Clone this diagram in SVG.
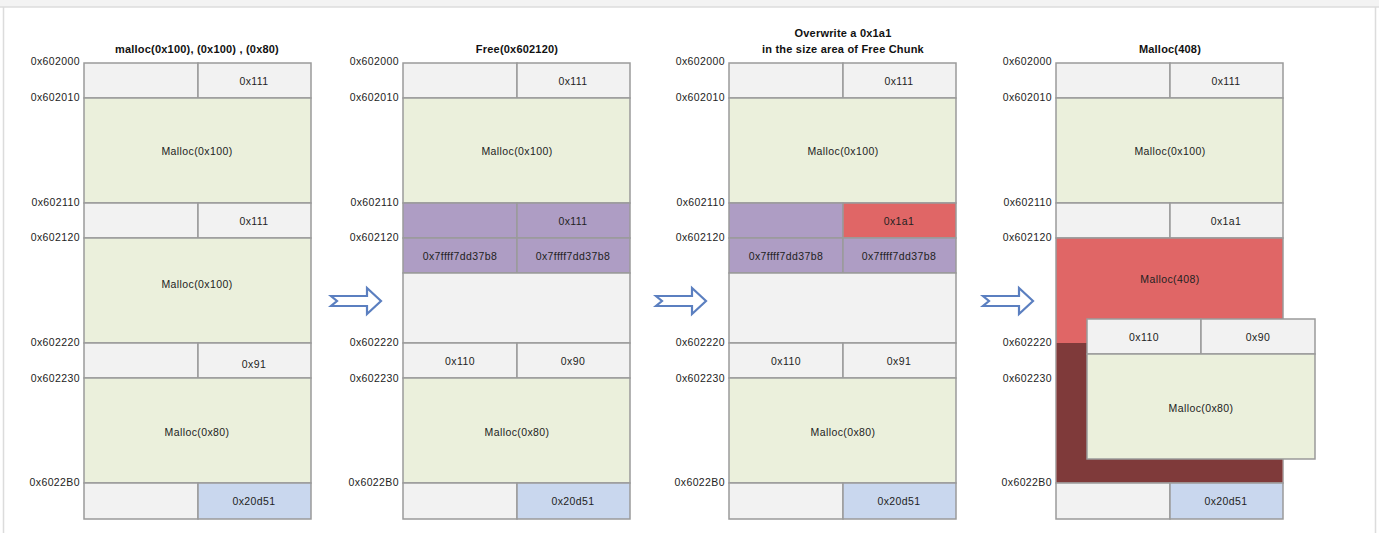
<svg xmlns="http://www.w3.org/2000/svg" width="1379" height="533" viewBox="0 0 1379 533">
<defs>
<style>
.c{stroke:#9a9a9a;stroke-width:1.5}
.g{fill:#f2f2f2}.m{fill:#ebf0dc}.b{fill:#c9d7ee}.p{fill:#ae9dc4}.r{fill:#e06666}.d{fill:#7f3a3a}
text{font-family:"Liberation Sans",Arial,sans-serif;font-size:10.5px;letter-spacing:0.4px;fill:#222}
.a{text-anchor:end}.t{text-anchor:middle}.h{font-weight:bold;font-size:11px;letter-spacing:0.2px;text-anchor:middle;fill:#111}
.ar{fill:#fff;stroke:#5b7fc0;stroke-width:2.2;stroke-linejoin:miter}
</style>
<g id="arrowShape"><path d="M0,-5 H36 V-13 L50,0 L36,13 V5 H0 L6,0 Z"/></g>
</defs>
<rect x="0" y="0" width="1379" height="533" fill="#fff"/>
<rect x="0" y="0" width="1379" height="7" fill="#f3f3f3"/>
<line x1="0" y1="7" x2="1379" y2="7" stroke="#dcdcdc" stroke-width="1.5"/>
<line x1="3.5" y1="7" x2="3.5" y2="533" stroke="#dcdcdc" stroke-width="1.5"/>
<line x1="1375.5" y1="7" x2="1375.5" y2="533" stroke="#dcdcdc" stroke-width="1.5"/>

<!-- Column 1 -->
<g id="col1">
<text class="h" x="197" y="53">malloc(0x100), (0x100) , (0x80)</text>
<rect class="c g" x="84" y="63" width="114" height="35"/><rect class="c g" x="198" y="63" width="113" height="35"/>
<rect class="c m" x="84" y="98" width="227" height="105"/>
<rect class="c g" x="84" y="203" width="114" height="35"/><rect class="c g" x="198" y="203" width="113" height="35"/>
<rect class="c m" x="84" y="238" width="227" height="105"/>
<rect class="c g" x="84" y="343" width="114" height="35"/><rect class="c g" x="198" y="343" width="113" height="35"/>
<rect class="c m" x="84" y="378" width="227" height="105"/>
<rect class="c g" x="84" y="483" width="114" height="36"/><rect class="c b" x="198" y="483" width="113" height="36"/>
<text class="t" x="254" y="85">0x111</text>
<text class="t" x="197" y="155">Malloc(0x100)</text>
<text class="t" x="254" y="225">0x111</text>
<text class="t" x="197" y="288">Malloc(0x100)</text>
<text class="t" x="254" y="368">0x91</text>
<text class="t" x="197" y="436">Malloc(0x80)</text>
<text class="t" x="254" y="505">0x20d51</text>
<text class="a" x="80" y="65">0x602000</text><text class="a" x="80" y="101">0x602010</text>
<text class="a" x="80" y="206">0x602110</text><text class="a" x="80" y="241">0x602120</text>
<text class="a" x="80" y="346">0x602220</text><text class="a" x="80" y="382">0x602230</text>
<text class="a" x="80" y="486">0x6022B0</text>
</g>

<!-- Column 2 -->
<g id="col2">
<text class="h" x="517" y="53">Free(0x602120)</text>
<rect class="c g" x="403" y="63" width="114" height="35"/><rect class="c g" x="517" y="63" width="113" height="35"/>
<rect class="c m" x="403" y="98" width="227" height="105"/>
<rect class="c p" x="403" y="203" width="114" height="35"/><rect class="c p" x="517" y="203" width="113" height="35"/>
<rect class="c p" x="403" y="238" width="114" height="35"/><rect class="c p" x="517" y="238" width="113" height="35"/>
<rect class="c g" x="403" y="273" width="227" height="70"/>
<rect class="c g" x="403" y="343" width="114" height="35"/><rect class="c g" x="517" y="343" width="113" height="35"/>
<rect class="c m" x="403" y="378" width="227" height="105"/>
<rect class="c g" x="403" y="483" width="114" height="36"/><rect class="c b" x="517" y="483" width="113" height="36"/>
<text class="t" x="573" y="225">0x111</text>
<text class="t" x="573" y="85">0x111</text>
<text class="t" x="517" y="155">Malloc(0x100)</text>
<text class="t" x="460" y="260">0x7ffff7dd37b8</text>
<text class="t" x="573" y="260">0x7ffff7dd37b8</text>
<text class="t" x="460" y="365">0x110</text>
<text class="t" x="573" y="365">0x90</text>
<text class="t" x="517" y="436">Malloc(0x80)</text>
<text class="t" x="573" y="505">0x20d51</text>
<text class="a" x="399" y="65">0x602000</text><text class="a" x="399" y="101">0x602010</text>
<text class="a" x="399" y="206">0x602110</text><text class="a" x="399" y="241">0x602120</text>
<text class="a" x="399" y="346">0x602220</text><text class="a" x="399" y="382">0x602230</text>
<text class="a" x="399" y="486">0x6022B0</text>
</g>

<!-- Column 3 -->
<g id="col3">
<text class="h" x="843" y="37">Overwrite a 0x1a1</text>
<text class="h" x="843" y="53">in the size area of Free Chunk</text>
<rect class="c g" x="729" y="63" width="114" height="35"/><rect class="c g" x="843" y="63" width="113" height="35"/>
<rect class="c m" x="729" y="98" width="227" height="105"/>
<rect class="c p" x="729" y="203" width="114" height="35"/><rect class="c r" x="843" y="203" width="113" height="35"/>
<rect class="c p" x="729" y="238" width="114" height="35"/><rect class="c p" x="843" y="238" width="113" height="35"/>
<rect class="c g" x="729" y="273" width="227" height="70"/>
<rect class="c g" x="729" y="343" width="114" height="35"/><rect class="c g" x="843" y="343" width="113" height="35"/>
<rect class="c m" x="729" y="378" width="227" height="105"/>
<rect class="c g" x="729" y="483" width="114" height="36"/><rect class="c b" x="843" y="483" width="113" height="36"/>
<text class="t" x="899" y="85">0x111</text>
<text class="t" x="843" y="155">Malloc(0x100)</text>
<text class="t" x="899" y="225">0x1a1</text>
<text class="t" x="786" y="260">0x7ffff7dd37b8</text>
<text class="t" x="899" y="260">0x7ffff7dd37b8</text>
<text class="t" x="786" y="365">0x110</text>
<text class="t" x="899" y="365">0x91</text>
<text class="t" x="843" y="436">Malloc(0x80)</text>
<text class="t" x="899" y="505">0x20d51</text>
<text class="a" x="725" y="65">0x602000</text><text class="a" x="725" y="101">0x602010</text>
<text class="a" x="725" y="206">0x602110</text><text class="a" x="725" y="241">0x602120</text>
<text class="a" x="725" y="346">0x602220</text><text class="a" x="725" y="382">0x602230</text>
<text class="a" x="725" y="486">0x6022B0</text>
</g>

<!-- Column 4 -->
<g id="col4">
<text class="h" x="1170" y="53">Malloc(408)</text>
<rect class="c g" x="1056" y="63" width="114" height="35"/><rect class="c g" x="1170" y="63" width="113" height="35"/>
<rect class="c m" x="1056" y="98" width="227" height="105"/>
<rect class="c g" x="1056" y="203" width="114" height="35"/><rect class="c g" x="1170" y="203" width="113" height="35"/>
<rect class="c r" x="1056" y="238" width="227" height="245"/>
<rect class="d" x="1056.75" y="343" width="225.5" height="139.25"/>
<rect class="c g" x="1056" y="483" width="114" height="36"/><rect class="c b" x="1170" y="483" width="113" height="36"/>
<text class="t" x="1226" y="85">0x111</text>
<text class="t" x="1170" y="155">Malloc(0x100)</text>
<text class="t" x="1226" y="225">0x1a1</text>
<text class="t" x="1170" y="283">Malloc(408)</text>
<text class="t" x="1226" y="505">0x20d51</text>
<text class="a" x="1052" y="65">0x602000</text><text class="a" x="1052" y="101">0x602010</text>
<text class="a" x="1052" y="206">0x602110</text><text class="a" x="1052" y="241">0x602120</text>
<text class="a" x="1052" y="346">0x602220</text><text class="a" x="1052" y="382">0x602230</text>
<text class="a" x="1052" y="486">0x6022B0</text>
</g>

<g id="overlay">
<rect class="c g" x="1087" y="319" width="114" height="35"/><rect class="c g" x="1201" y="319" width="114" height="35"/>
<rect class="c m" x="1087" y="354" width="228" height="105"/>
<text class="t" x="1144" y="341">0x110</text>
<text class="t" x="1258" y="341">0x90</text>
<text class="t" x="1201" y="412">Malloc(0x80)</text>
</g>

<g id="connectors">
<use href="#arrowShape" class="ar" transform="translate(331,301)"/>
<use href="#arrowShape" class="ar" transform="translate(656,301)"/>
<use href="#arrowShape" class="ar" transform="translate(983,301)"/>
</g>
</svg>
